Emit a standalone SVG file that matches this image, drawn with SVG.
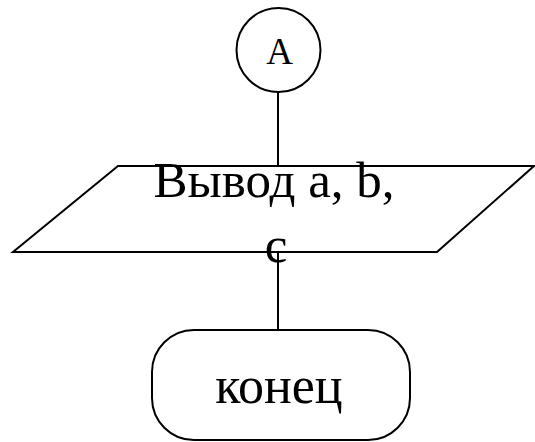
<svg xmlns="http://www.w3.org/2000/svg" width="535" height="442" viewBox="0 0 535 442">
<style>
.s{fill:none;stroke:#000;stroke-width:2}
.t{font-family:"Liberation Serif","Times New Roman",serif;fill:#000;text-anchor:middle}
</style>
<rect width="535" height="442" fill="#fff"/>
<g id="connectors">
<line class="s" x1="278" y1="92" x2="278" y2="166"/>
<line class="s" x1="278" y1="252" x2="278" y2="330"/>
</g>
<g id="nodeA">
<circle class="s" cx="278.5" cy="50" r="42"/>
<text class="t" x="279.5" y="64" font-size="37">A</text>
</g>
<g id="output">
<polygon class="s" points="118,166 534,166 437,252 13,252"/>
<text class="t" x="274" y="197" font-size="51">Вывод a, b,</text>
<text class="t" x="276" y="262" font-size="51">c</text>
</g>
<g id="end">
<rect class="s" x="152" y="330" width="258" height="110" rx="42" ry="42"/>
<text class="t" x="279" y="403" font-size="52">конец</text>
</g>
</svg>
